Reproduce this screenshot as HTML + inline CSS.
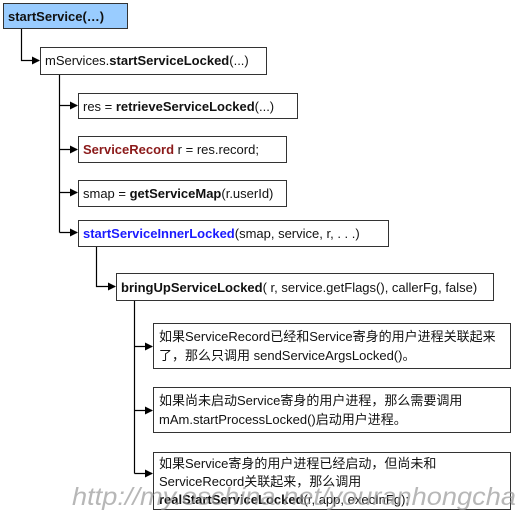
<!DOCTYPE html>
<html><head><meta charset="utf-8"><style>
html,body{margin:0;padding:0;background:#fff;}
svg text{font-family:"Liberation Sans","Noto Sans CJK SC",sans-serif;font-size:13px;fill:#111;}
</style></head><body>
<svg width="516" height="516" xmlns="http://www.w3.org/2000/svg">
<defs><marker id="a" markerWidth="8" markerHeight="8" refX="7" refY="4" orient="auto" markerUnits="userSpaceOnUse"><path d="M0,0 L8,4 L0,8 z" fill="#000"/></marker></defs>
<g fill="none" stroke="#000" stroke-width="1.2">
<path d="M21.5,29 V60.5 H39" marker-end="url(#a)"/>
<path d="M59.5,74 V232.5"/>
<path d="M59.5,105.5 H77" marker-end="url(#a)"/>
<path d="M59.5,149.5 H77" marker-end="url(#a)"/>
<path d="M59.5,192.5 H77" marker-end="url(#a)"/>
<path d="M59.5,232.5 H77" marker-end="url(#a)"/>
<path d="M96.5,246 V286.5 H115" marker-end="url(#a)"/>
<path d="M134.5,300 V473.5"/>
<path d="M134.5,346.5 H152" marker-end="url(#a)"/>
<path d="M134.5,410.5 H152" marker-end="url(#a)"/>
<path d="M134.5,473.5 H152" marker-end="url(#a)"/>
</g>
<g stroke="#333" stroke-width="1">
<rect x="3.5" y="3.5" width="124" height="25" fill="#99ccff"/>
<rect x="40.5" y="47.5" width="226" height="27" fill="#fff"/>
<rect x="78.5" y="93.5" width="219" height="25" fill="#fff"/>
<rect x="78.5" y="136.5" width="208" height="26" fill="#fff"/>
<rect x="78.5" y="180.5" width="208" height="26" fill="#fff"/>
<rect x="78.5" y="220.5" width="310" height="26" fill="#fff"/>
<rect x="116.5" y="273.5" width="377" height="27" fill="#fff"/>
<rect x="153.5" y="323.5" width="357" height="45" fill="#fff"/>
<rect x="153.5" y="387.5" width="357" height="45" fill="#fff"/>
<rect x="153.5" y="452.5" width="357" height="57" fill="#fff"/>
</g>
<text x="8" y="21" font-weight="bold">startService(…)</text>
<text x="45" y="65">mServices.<tspan font-weight="bold">startServiceLocked</tspan>(...)</text>
<text x="83" y="111">res = <tspan font-weight="bold">retrieveServiceLocked</tspan>(...)</text>
<text x="83" y="154"><tspan font-weight="bold" style="fill:#8b1a1a">ServiceRecord</tspan> r = res.record;</text>
<text x="83" y="198">smap = <tspan font-weight="bold">getServiceMap</tspan>(r.userId)</text>
<text x="83" y="238"><tspan font-weight="bold" style="fill:#1a1aff">startServiceInnerLocked</tspan>(smap, service, r, . . .)</text>
<text x="121" y="292"><tspan font-weight="bold">bringUpServiceLocked</tspan>( r, service.getFlags(), callerFg, false)</text>
<text x="159" y="341">如果ServiceRecord已经和Service寄身的用户进程关联起来</text>
<text x="159" y="360">了，那么只调用 sendServiceArgsLocked()。</text>
<text x="159" y="405">如果尚未启动Service寄身的用户进程，那么需要调用</text>
<text x="159" y="424">mAm.startProcessLocked()启动用户进程。</text>
<text x="159" y="468">如果Service寄身的用户进程已经启动，但尚未和</text>
<text x="159" y="486">ServiceRecord关联起来，那么调用</text>
<text x="159" y="504"><tspan font-weight="bold">realStartServiceLocked</tspan>(r, app, execInFg);</text>
<text x="72" y="505" textLength="444" lengthAdjust="spacingAndGlyphs" style="font-size:25px;font-style:italic;fill:#999;opacity:0.7">http://my.oschina.net/youranhongcha</text>
</svg>
</body></html>
